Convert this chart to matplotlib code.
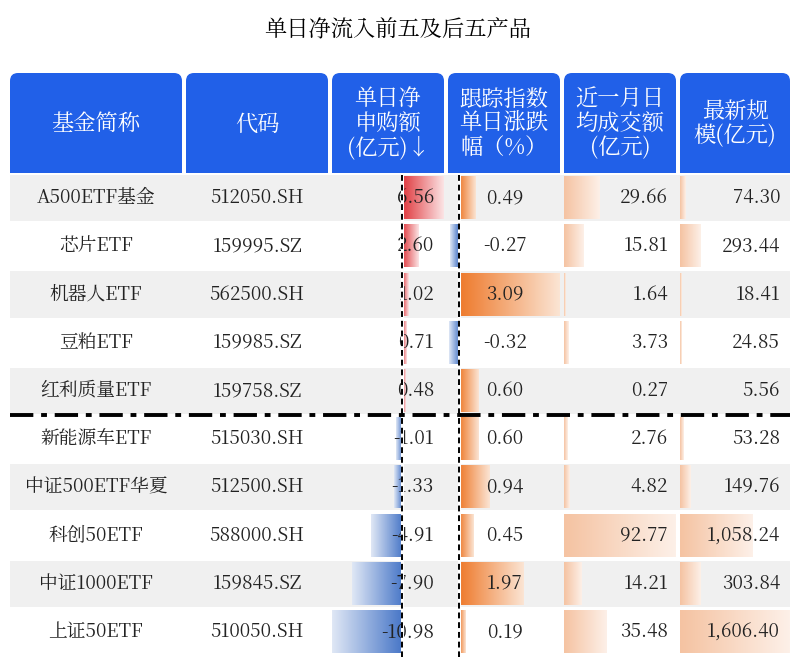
import numpy as np
import matplotlib
matplotlib.use("Agg")
import matplotlib.pyplot as plt
from matplotlib import font_manager
from matplotlib.patches import Rectangle, FancyBboxPatch
from matplotlib.colors import LinearSegmentedColormap

cjk = [f.name for f in font_manager.fontManager.ttflist if "CJK" in f.name]
if not cjk:
    import glob
    for p in glob.glob("/usr/share/fonts/**/*CJK*", recursive=True):
        try:
            font_manager.fontManager.addfont(p)
        except Exception:
            pass
    cjk = [f.name for f in font_manager.fontManager.ttflist if "CJK" in f.name]
pref = [n for n in cjk if n.endswith("SC")] or cjk
plt.rcParams["font.family"] = "sans-serif"
plt.rcParams["font.sans-serif"] = (pref[:1] if pref else []) + ["DejaVu Sans"]

names = ["A500ETF基金", "芯片ETF", "机器人ETF", "豆粕ETF", "红利质量ETF",
         "新能源车ETF", "中证500ETF华夏", "科创50ETF", "中证1000ETF", "上证50ETF"]
codes = ["512050.SH", "159995.SZ", "562500.SH", "159985.SZ", "159758.SZ",
         "515030.SH", "512500.SH", "588000.SH", "159845.SZ", "510050.SH"]
net_flow = [6.56, 2.60, 1.02, 0.71, 0.48, -1.01, -1.33, -4.91, -7.90, -10.98]
pct_chg = [0.49, -0.27, 3.09, -0.32, 0.60, 0.60, 0.94, 0.45, 1.97, 0.19]
avg_vol = [29.66, 15.81, 1.64, 3.73, 0.27, 2.76, 4.82, 92.77, 14.21, 35.48]
aum = [74.30, 293.44, 18.41, 24.85, 5.56, 53.28, 149.76, 1058.24, 303.84, 1606.40]
headers = ["基金简称", "代码", "单日净\n申购额\n(亿元)↓", "跟踪指数\n单日涨跌\n幅（%）",
           "近一月日\n均成交额\n(亿元)", "最新规\n模(亿元)"]

W, H = 796, 661
fig = plt.figure(figsize=(W / 100, H / 100), dpi=100)
ax = fig.add_axes([0, 0, 1, 1])
ax.set_xlim(0, W); ax.set_ylim(H, 0); ax.axis("off")

cols = [(10, 182), (186, 328), (332, 444), (448, 560), (564, 676), (680, 790)]
HEAD_TOP, HEAD_BOT = 73, 173
ROW0, RH = 175, 48.2

ax.text(W / 2, 30, "单日净流入前五及后五产品", ha="center", va="center", fontsize=16)

for (x0, x1), h in zip(cols, headers):
    ax.add_patch(FancyBboxPatch((x0 + 4, HEAD_TOP + 4), x1 - x0 - 8, HEAD_BOT - HEAD_TOP - 8,
                                boxstyle="round,pad=4,rounding_size=8", fc="#2160e8", ec="none"))
    ax.add_patch(Rectangle((x0, HEAD_BOT - 20), x1 - x0, 20, fc="#2160e8", ec="none"))
    ax.text((x0 + x1) / 2, (HEAD_TOP + HEAD_BOT) / 2 + 1, h, ha="center", va="center",
            color="white", fontsize=16, linespacing=1.0)


def grad_bar(xa, xb, y0, y1, c_solid, c_light, solid_at_left=True):
    if abs(xb - xa) < 0.5:
        return
    cm = LinearSegmentedColormap.from_list("g", [c_solid, c_light])
    g = np.linspace(0, 1, 64)[None, :]
    if not solid_at_left:
        g = g[:, ::-1]
    ax.imshow(g, cmap=cm, extent=(xa, xb, y1, y0), aspect="auto", zorder=2, interpolation="bilinear")


net_zero = 402
net_scale = (net_zero - 332) / max(-min(net_flow), 1e-9)
pct_zero = 459
pct_scale = (560 - pct_zero) / max(pct_chg)
vol_scale = 112 / max(avg_vol)
aum_scale = 110 / max(aum)

for i in range(len(names)):
    y0 = ROW0 + i * RH
    y1 = y0 + RH - 2
    yc = (y0 + y1) / 2
    if i % 2 == 0:
        ax.add_patch(Rectangle((10, y0), 780, RH - 2, fc="#f0f0f0", ec="none", zorder=1))
    by0, by1 = y0 + 2, y1 - 2
    v = net_flow[i]
    if v >= 0:
        grad_bar(net_zero, net_zero + v * net_scale, by0, by1, "#e0393e", "#fbe3e4")
    else:
        grad_bar(net_zero + v * net_scale, net_zero, by0, by1, "#4a78c8", "#dfe7f5", solid_at_left=False)
    p = pct_chg[i]
    if p >= 0:
        grad_bar(pct_zero, pct_zero + p * pct_scale, by0, by1, "#ee7a2c", "#fbe4d3")
    else:
        grad_bar(pct_zero + p * pct_scale, pct_zero, by0, by1, "#4a78c8", "#dfe7f5", solid_at_left=False)
    grad_bar(564, 564 + avg_vol[i] * vol_scale, by0, by1, "#f5c3a2", "#fdf0e8")
    grad_bar(680, 680 + aum[i] * aum_scale, by0, by1, "#f5c3a2", "#fdf0e8")

    fs = 13.5
    ax.text(96, yc, names[i], ha="center", va="center", fontsize=fs, color="#222222", zorder=4)
    ax.text(257, yc, codes[i], ha="center", va="center", fontsize=fs, color="#222222", zorder=4)
    ax.text(434, yc, f"{v:.2f}", ha="right", va="center", fontsize=fs, color="#222222", zorder=4)
    ax.text(505, yc, f"{p:.2f}", ha="center", va="center", fontsize=fs, color="#222222", zorder=4)
    ax.text(668, yc, f"{avg_vol[i]:,.2f}", ha="right", va="center", fontsize=fs, color="#222222", zorder=4)
    ax.text(780, yc, f"{aum[i]:,.2f}", ha="right", va="center", fontsize=fs, color="#222222", zorder=4)

ybot = ROW0 + len(names) * RH
for xz in (net_zero, pct_zero):
    ax.plot([xz, xz], [ROW0, ybot], color="white", lw=2.2, zorder=5)
    ax.plot([xz, xz], [ROW0, ybot], color="black", lw=1.4, ls=(0, (3, 2)), zorder=6)

ysep = ROW0 + 5 * RH - 1
ax.plot([10, 790], [ysep, ysep], color="black", lw=2.8, ls=(0, (6, 2, 1.5, 2)), zorder=6)

fig.savefig("out.png", dpi=100)
